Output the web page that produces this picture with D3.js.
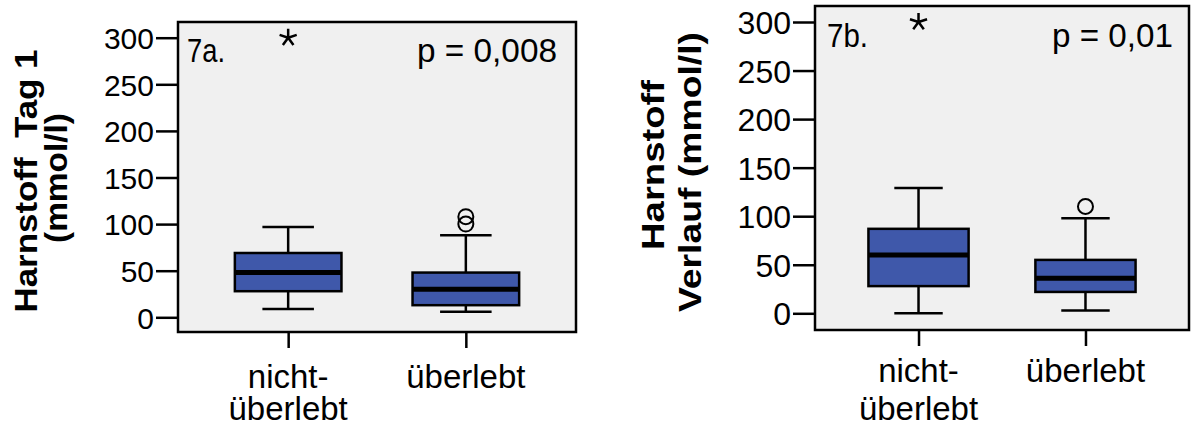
<!DOCTYPE html>
<html>
<head>
<meta charset="utf-8">
<title>Harnstoff boxplots</title>
<style>
  body { margin: 0; background: #fff; }
  text { font-family: "Liberation Sans", Arial, sans-serif; fill: #000; }
  .axis path { display: none; }
  .axis line { stroke: #000; stroke-width: 2.5; }
  .title { font-weight: bold; }
</style>
</head>
<body>
<script src="https://cdn.jsdelivr.net/npm/d3@7"></script>
<script>
// ---- data ----
var groups = ["nicht-überlebt", "überlebt"];
var groupLabels = [["nicht-", "überlebt"], ["überlebt"]];
var yTicks = [0, 50, 100, 150, 200, 250, 300];

// min, q1, median, q3, max
var tag1Stats = [[9, 28, 48, 69, 97], [6, 13, 30, 48, 88]];
var tag1Outliers = [[], [100, 108]];
var tag1Extremes = [[300], []];

var verlaufStats = [[0, 28, 60, 87, 129], [3, 22, 36, 55, 98]];
var verlaufOutliers = [[], [110]];
var verlaufExtremes = [[300], []];

var svg = d3.select("body").append("svg")
    .attr("width", 1192).attr("height", 427);

var boxColor = "#3f58aa";

function drawPanel(p) {
    var g = svg.append("g");
    var y = d3.scaleLinear().domain([0, 300]).range([p.y0, p.y300]);
    var x = d3.scalePoint().domain(groups).range([p.left, p.right]).padding(0.62);
    var step = x.step();
    var boxW = step * 0.6, capW = step * 0.29;

    // frame
    g.append("rect")
        .attr("x", p.left).attr("y", p.top)
        .attr("width", p.right - p.left).attr("height", p.bottom - p.top)
        .attr("fill", "#f0f0f0").attr("stroke", "#000").attr("stroke-width", 2.5);

    // axes
    var yAxis = d3.axisLeft(y).tickValues(yTicks).tickSize(22).tickPadding(2);
    var ya = g.append("g").attr("class", "axis")
        .attr("transform", "translate(" + p.left + ",0)").call(yAxis);
    ya.selectAll("text").style("font-size", p.tickFont + "px").attr("dy", "0.36em");

    var xAxis = d3.axisBottom(x).tickSize(16).tickFormat("");
    g.append("g").attr("class", "axis")
        .attr("transform", "translate(0," + p.bottom + ")").call(xAxis);

    groups.forEach(function (gr, i) {
        var t = g.append("text").attr("text-anchor", "middle")
            .style("font-size", "33px");
        groupLabels[i].forEach(function (line, j) {
            t.append("tspan").attr("x", x(gr))
                .attr("y", p.bottom + p.lab1 + j * p.labStep).text(line);
        });
    });

    // boxes
    var bx = g.selectAll(".box").data(p.stats).enter().append("g").attr("class", "box");
    bx.each(function (s, i) {
        var b = d3.select(this), cx = x(groups[i]);
        b.append("line").attr("x1", cx).attr("x2", cx).attr("y1", y(s[0])).attr("y2", y(s[1]))
            .attr("stroke", "#000").attr("stroke-width", 2.5);
        b.append("line").attr("x1", cx).attr("x2", cx).attr("y1", y(s[3])).attr("y2", y(s[4]))
            .attr("stroke", "#000").attr("stroke-width", 2.5);
        [s[0], s[4]].forEach(function (v) {
            b.append("line").attr("x1", cx - capW / 2).attr("x2", cx + capW / 2)
                .attr("y1", y(v)).attr("y2", y(v))
                .attr("stroke", "#000").attr("stroke-width", 2.5);
        });
        b.append("rect").attr("x", cx - boxW / 2).attr("width", boxW)
            .attr("y", y(s[3])).attr("height", y(s[1]) - y(s[3]))
            .attr("fill", boxColor).attr("stroke", "#000").attr("stroke-width", 2.5);
        b.append("line").attr("x1", cx - boxW / 2).attr("x2", cx + boxW / 2)
            .attr("y1", y(s[2])).attr("y2", y(s[2]))
            .attr("stroke", "#000").attr("stroke-width", 5);

        p.outliers[i].forEach(function (v) {
            b.append("circle").attr("cx", cx).attr("cy", y(v)).attr("r", 7.5)
                .attr("fill", "none").attr("stroke", "#000").attr("stroke-width", 2);
        });
        p.extremes[i].forEach(function (v) {
            var path = "";
            for (var k = 0; k < 5; k++) {
                var a = -Math.PI / 2 + k * 2 * Math.PI / 5;
                path += "M0,0L" + (9 * Math.cos(a)).toFixed(2) + "," + (9 * Math.sin(a)).toFixed(2);
            }
            b.append("path").attr("d", path)
                .attr("transform", "translate(" + cx + "," + y(v) + ")")
                .attr("stroke", "#000").attr("stroke-width", 2.5).attr("fill", "none");
        });
    });

    // annotations
    g.append("text").attr("x", p.tag[0]).attr("y", p.tag[1])
        .attr("textLength", p.tag[2]).attr("lengthAdjust", "spacingAndGlyphs")
        .style("font-size", "33px").text(p.tagText);
    g.append("text").attr("x", p.pv[0]).attr("y", p.pv[1])
        .attr("textLength", p.pv[2]).attr("lengthAdjust", "spacingAndGlyphs")
        .style("font-size", "33px").text(p.pText);

    // y title
    p.titles.forEach(function (tl) {
        g.append("text").attr("class", "title")
            .attr("transform", "translate(" + tl.x + "," + tl.cy + ") rotate(-90)")
            .attr("text-anchor", "middle")
            .attr("textLength", tl.len).attr("lengthAdjust", "spacingAndGlyphs")
            .style("font-size", "32px").text(tl.text);
    });
}

drawPanel({
    left: 178, right: 576, top: 22, bottom: 332, y0: 317.3, y300: 37.7,
    tickFont: 30, lab1: 56, labStep: 32,
    stats: tag1Stats, outliers: tag1Outliers, extremes: tag1Extremes,
    tagText: "7a.", tag: [187, 62, 38], pText: "p = 0,008", pv: [417, 62, 140],
    titles: [{ text: "Harnstoff\u00a0\u00a0Tag 1", x: 37, cy: 181, len: 263 },
             { text: "(mmol/l)", x: 67, cy: 178, len: 130 }]
});

drawPanel({
    left: 815, right: 1189, top: 6, bottom: 330, y0: 313.3, y300: 22,
    tickFont: 32, lab1: 52, labStep: 38,
    stats: verlaufStats, outliers: verlaufOutliers, extremes: verlaufExtremes,
    tagText: "7b.", tag: [827, 47, 41], pText: "p = 0,01", pv: [1052, 47, 121],
    titles: [{ text: "Harnstoff", x: 664, cy: 165, len: 170 },
             { text: "Verlauf (mmol/l)", x: 701, cy: 172, len: 280 }]
});
</script>
</body>
</html>
